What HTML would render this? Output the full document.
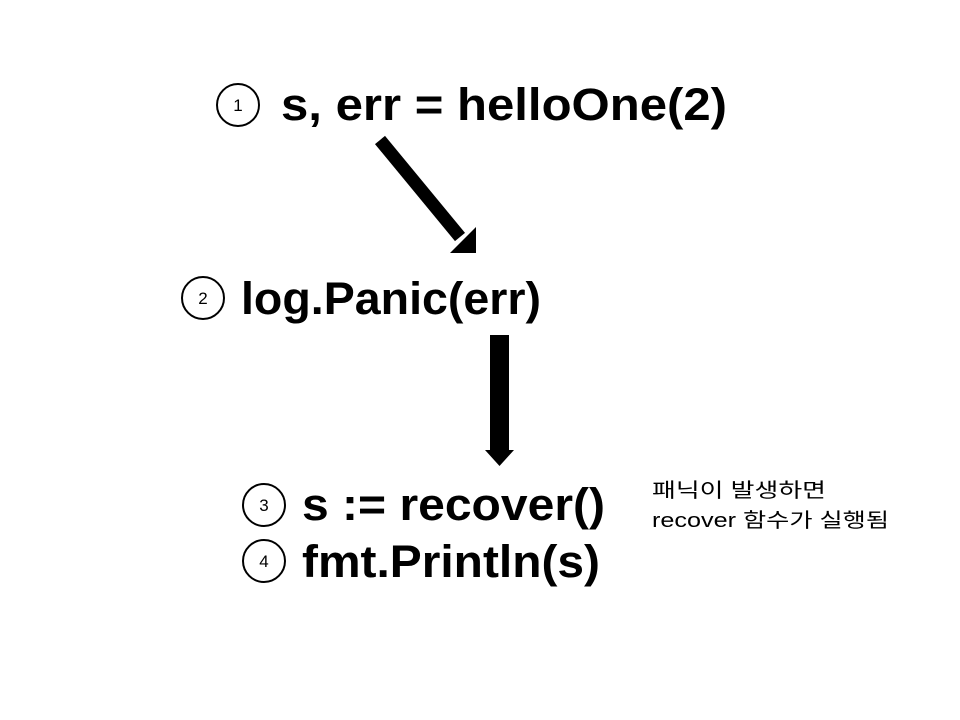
<!DOCTYPE html>
<html><head><meta charset="utf-8"><style>html,body{margin:0;padding:0;background:#fff}</style></head>
<body>
<svg width="960" height="720" xmlns="http://www.w3.org/2000/svg" style="display:block">
<rect width="960" height="720" fill="#fff"/>
<g fill="none" stroke="#000" stroke-width="2">
<circle cx="238" cy="105" r="21"/>
<circle cx="203" cy="298" r="21"/>
<circle cx="264" cy="505" r="21"/>
<circle cx="264" cy="561" r="21"/>
</g>
<g font-family="Liberation Sans, sans-serif" font-size="17" text-anchor="middle">
<text x="238" y="111">1</text>
<text x="203" y="304">2</text>
<text x="264" y="511">3</text>
<text x="264" y="567">4</text>
</g>
<g font-family="Liberation Sans, sans-serif" font-size="45" font-weight="bold">
<text x="281" y="120" textLength="446" lengthAdjust="spacingAndGlyphs">s, err = helloOne(2)</text>
<text x="241" y="314" textLength="300" lengthAdjust="spacingAndGlyphs">log.Panic(err)</text>
<text x="302" y="520" textLength="303" lengthAdjust="spacingAndGlyphs">s := recover()</text>
<text x="302" y="577" textLength="298" lengthAdjust="spacingAndGlyphs">fmt.Println(s)</text>
</g>
<g font-family="Liberation Sans, 'Noto Sans CJK KR', sans-serif" font-size="20">
<text x="652" y="497" textLength="174" lengthAdjust="spacingAndGlyphs">패닉이 발생하면</text>
<text x="652" y="527" textLength="237" lengthAdjust="spacingAndGlyphs">recover 함수가 실행됨</text>
</g>
<line x1="380" y1="140" x2="460" y2="237" stroke="#000" stroke-width="13"/>
<polygon points="450,253 476,253 476,227" fill="#000"/>
<rect x="490" y="335" width="19" height="118" fill="#000"/>
<polygon points="485,450 514,450 499.5,466" fill="#000"/>
</svg>
</body></html>
